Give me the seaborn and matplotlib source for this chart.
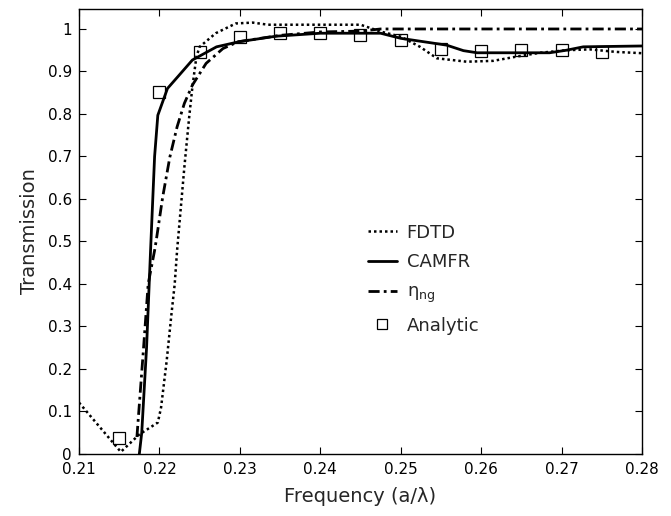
import matplotlib
matplotlib.use("Agg")
import matplotlib.pyplot as plt
import seaborn as sns
import pandas as pd

# ---- data ----
fdtd_x = [0.210, 0.2152, 0.2175, 0.2198, 0.2202, 0.2209, 0.2215, 0.2219, 0.2222, 0.2231,
          0.2237, 0.2241, 0.2246, 0.2250, 0.2270, 0.2295, 0.2316, 0.2335, 0.2375, 0.2450,
          0.2475, 0.2500, 0.2524, 0.2545, 0.2582, 0.2615, 0.2644, 0.2673, 0.2706, 0.2735,
          0.2768, 0.2800]
fdtd_y = [0.121, 0.005, 0.046, 0.074, 0.109, 0.219, 0.33, 0.40, 0.48, 0.675,
          0.793, 0.864, 0.935, 0.958, 0.99, 1.013, 1.015, 1.01, 1.01, 1.01,
          0.994, 0.982, 0.958, 0.931, 0.923, 0.925, 0.935, 0.944, 0.950, 0.952,
          0.946, 0.943]

camfr_x = [0.2175, 0.2178, 0.2184, 0.2189, 0.2194, 0.2198, 0.2210, 0.2223, 0.2241, 0.2271,
           0.2299, 0.2345, 0.2400, 0.2475, 0.2500, 0.2557, 0.2578, 0.2595, 0.2685, 0.2706,
           0.2727, 0.2800]
camfr_y = [0.0, 0.05, 0.25, 0.48, 0.70, 0.797, 0.86, 0.888, 0.927, 0.958,
           0.970, 0.983, 0.990, 0.990, 0.978, 0.962, 0.949, 0.944, 0.944, 0.950,
           0.958, 0.960]

eta_x = [0.2172, 0.2180, 0.2186, 0.2194, 0.2196, 0.2204, 0.2213, 0.2222, 0.2231, 0.2241,
         0.2258, 0.2279, 0.2298, 0.2350, 0.2400, 0.2450, 0.2475, 0.2800]
eta_y = [0.04, 0.243, 0.40, 0.479, 0.502, 0.604, 0.699, 0.77, 0.825, 0.868,
         0.919, 0.954, 0.97, 0.985, 0.993, 0.995, 1.0, 1.0]

analytic_x = [0.215, 0.22, 0.225, 0.23, 0.235, 0.24, 0.245, 0.25, 0.255, 0.26, 0.265, 0.27, 0.275]
analytic_y = [0.037, 0.851, 0.945, 0.98, 0.99, 0.99, 0.987, 0.974, 0.952, 0.949, 0.950, 0.951, 0.946]

x_ticks = [0.21, 0.22, 0.23, 0.24, 0.25, 0.26, 0.27, 0.28]
x_ticklabels = ["0.21", "0.22", "0.23", "0.24", "0.25", "0.26", "0.27", "0.28"]
y_ticks = [0, 0.1, 0.2, 0.3, 0.4, 0.5, 0.6, 0.7, 0.8, 0.9, 1.0]
y_ticklabels = ["0", "0.1", "0.2", "0.3", "0.4", "0.5", "0.6", "0.7", "0.8", "0.9", "1"]

labels = ["FDTD", "CAMFR", r"$\eta_{\rm ng}$", "Analytic"]

sns.set_style("ticks")
plt.rcParams["font.family"] = ["DejaVu Sans"]
plt.rcParams["mathtext.fontset"] = "dejavusans"
plt.rcParams["mathtext.default"] = "regular"

fig = plt.figure(figsize=(6.71, 5.16), dpi=100)
ax = fig.add_axes([79 / 671, 1 - 454 / 516, (642 - 79) / 671, (454 - 9) / 516])

df_f = pd.DataFrame({"x": fdtd_x, "y": fdtd_y})
df_c = pd.DataFrame({"x": camfr_x, "y": camfr_y})
df_e = pd.DataFrame({"x": eta_x, "y": eta_y})
df_a = pd.DataFrame({"x": analytic_x, "y": analytic_y})

sns.lineplot(data=df_f, x="x", y="y", ax=ax, color="black", lw=1.8,
             linestyle=(0, (1, 1.2)), sort=False, estimator=None, label=labels[0])
sns.lineplot(data=df_c, x="x", y="y", ax=ax, color="black", lw=2.0,
             linestyle="-", sort=False, estimator=None, label=labels[1])
sns.lineplot(data=df_e, x="x", y="y", ax=ax, color="black", lw=2.0,
             linestyle=(0, (4, 1.5, 1, 1.5)), sort=False, estimator=None, label=labels[2])
sns.lineplot(data=df_a, x="x", y="y", ax=ax, color="black", lw=0,
             marker="s", markersize=9, markerfacecolor="none", markeredgecolor="black",
             markeredgewidth=0.9, sort=False, estimator=None, label=labels[3])

ax.set_xlim(0.21, 0.28)
ax.set_ylim(0, 1.047)
ax.set_xticks(x_ticks)
ax.set_xticklabels(x_ticklabels)
ax.set_yticks(y_ticks)
ax.set_yticklabels(y_ticklabels)
ax.tick_params(direction="in", top=True, right=True, length=5, width=0.8,
               labelsize=11, colors="black")
ax.tick_params(axis="x", labeltop=False, pad=6)
ax.tick_params(axis="y", labelright=False, pad=5)
for s in ax.spines.values():
    s.set_visible(True)
    s.set_color("black")
    s.set_linewidth(1.0)

ax.set_xlabel("Frequency (a/\u03bb)", fontsize=14, labelpad=7)
ax.set_ylabel("Transmission", fontsize=14, labelpad=6)

leg = ax.legend(loc="upper left", bbox_to_anchor=(0.50, 0.534), frameon=False,
                fontsize=13, handlelength=1.6, handletextpad=0.55, labelspacing=0.65,
                borderaxespad=0, markerscale=0.75)

fig.savefig("out.png", dpi=100)
